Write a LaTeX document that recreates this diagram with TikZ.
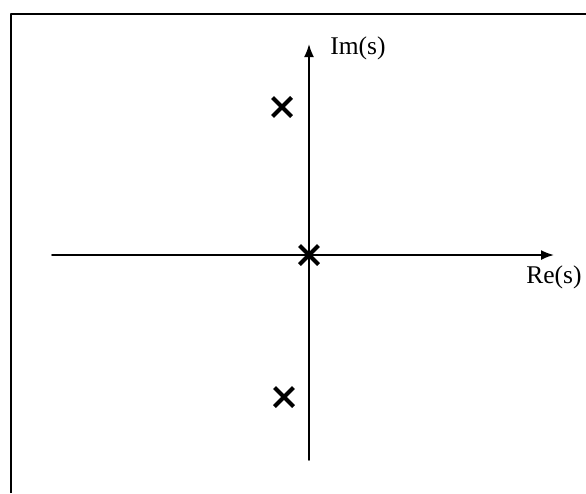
\documentclass[tikz,border=0pt]{standalone}
\usepackage{fontspec}
\setmainfont{Liberation Serif}
\usetikzlibrary{arrows.meta, shapes.misc}

\begin{document}
\begin{tikzpicture}[line cap=round,line join=round,x=1pt,y=-1pt,
	pole/.style={cross out, draw, line width=4pt, line cap=butt, minimum size=15pt, inner sep=0pt},
	axis/.style={line width=1.8pt, -{Latex[length=13pt,width=10pt]}},
	lbl/.style={font=\fontsize{25.5}{25.5}\selectfont, inner sep=0pt}]
			\useasboundingbox (0,0) rectangle (586,493);
			% Rahmen
			\coordinate (tl) at (11,14);
			\coordinate (tr) at (586,14);
			\coordinate (bl) at (11,493);
			\draw[line width=2pt, line cap=butt] (bl)--(tl)--(tr);
			% Achsen
			\coordinate (o) at (309,255);
			\coordinate (xl) at (52,255);
			\coordinate (xr) at (554,255);
			\coordinate (yb) at (309,460);
			\coordinate (yt) at (309,44);
			\draw[axis] (xl)--(xr);
			\draw[axis] (yb)--(yt);
			\node[lbl] (re) at (554,277) {Re(s)};
			\node[lbl] (im) at (358,48) {Im(s)};
			% Pole
			\node[pole] (p0) at (o) {};
			\node[pole] (p1) at (282,107) {};
			\node[pole] (p2) at (284,397) {};
	\end{tikzpicture}
\end{document}
